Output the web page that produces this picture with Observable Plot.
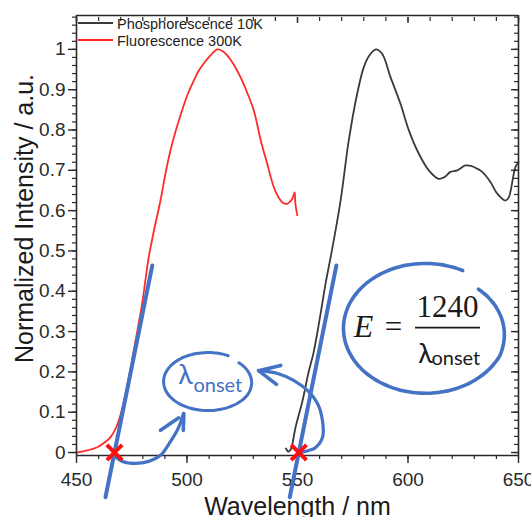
<!DOCTYPE html>
<html>
<head>
<meta charset="utf-8">
<script src="https://cdn.jsdelivr.net/npm/d3@7"></script>
<script src="https://cdn.jsdelivr.net/npm/@observablehq/plot@0.6"></script>
<style>
  html, body { margin: 0; background: #fff; overflow: hidden; }
  #chart svg { display: block; overflow: hidden; }
</style>
</head>
<body>
<div id="chart"></div>
<script>
// Emission spectra: [wavelength (nm), normalized intensity]
const fluorescence300K = [
  [450, 0], [454, 0.004], [459.4, 0.013], [463, 0.026], [465.4, 0.038], [467.4, 0.056],
  [469.1, 0.079], [470.7, 0.11], [472.2, 0.146], [474, 0.195], [475.9, 0.253], [477.8, 0.31],
  [479.7, 0.369], [481.2, 0.428], [482.7, 0.485], [485.3, 0.557], [488, 0.625], [490.2, 0.69],
  [492.5, 0.749], [495, 0.8], [497.8, 0.849], [500.4, 0.89], [503.1, 0.923], [505.3, 0.947],
  [507.6, 0.965], [510.6, 0.985], [513.7, 1.0], [516, 0.996], [518.2, 0.985], [521.2, 0.962],
  [524.2, 0.931], [527.2, 0.893], [530.2, 0.849], [533.3, 0.776], [536.3, 0.716], [539.3, 0.658],
  [541.2, 0.635], [543.1, 0.621], [545.3, 0.617], [547.5, 0.628], [548.7, 0.645], [549.0, 0.62],
  [549.9, 0.588]
];
const phosphorescence10K = [
  [544.8, 0.01], [545.9, 0.002], [546.8, 0.007], [547.3, 0.012], [549.1, 0.062], [552.3, 0.129],
  [555, 0.199], [557.2, 0.246], [558.9, 0.295], [560.8, 0.356], [562.7, 0.419], [565.7, 0.505],
  [569.5, 0.625], [573.2, 0.774], [577, 0.89], [580, 0.956], [582.5, 0.985], [585.5, 1.0],
  [588.3, 0.989], [592.1, 0.931], [596.6, 0.865], [600.4, 0.799], [604.9, 0.741], [609.4, 0.7],
  [613.9, 0.679], [616.5, 0.683], [619.2, 0.696], [622.3, 0.7], [626, 0.712], [628.5, 0.711],
  [631.3, 0.704], [633.6, 0.696], [637.3, 0.671], [640.4, 0.642], [644.1, 0.625], [645.6, 0.633],
  [648.6, 0.708], [650, 0.72]
];

// Series names, in legend order
const seriesNames = ["Phosphorescence 10K", "Fluorescence 300K"];

// Axis extents and ticks
const xDomain = [450, 650];
const yDomain = [-0.0074, 1.084];
const xMajor = [450, 500, 550, 600, 650];
const xMinor = [450, 460, 470, 480, 490, 500, 510, 520, 530, 540, 550, 560, 570, 580, 590, 600, 610, 620, 630, 640, 650];
const yMajor = [0, 0.1, 0.2, 0.3, 0.4, 0.5, 0.6, 0.7, 0.8, 0.9, 1];
const yMinor = d3.range(0, 55).map(i => i / 50);

// Onset construction: tangents to the rising edges and their baseline intercepts
const tangentLines = [
  {x1: 463.1, y1: -0.111, x2: 484.3, y2: 0.464},
  {x1: 546.5, y1: -0.111, x2: 567.6, y2: 0.464}
];
const onsetWavelengths = [467.2, 550.6];

// Hand-drawn annotation strokes, in (nm, intensity) space
const arrowToLabel = [[466.7, -0.007], [470.8, -0.022], [476.7, -0.027], [482.6, -0.022], [488, -0.007],
  [492.5, 0.027], [496.2, 0.062], [498.4, 0.097]];
const arrowFromSecond = [[551.4, 0], [555, 0.005], [558.1, 0.012], [561.3, 0.037], [561.3, 0.079],
  [559, 0.122], [554.5, 0.154], [548.2, 0.179], [541, 0.196], [532.4, 0.203]];
const arrowBarbs = [
  {x1: 488.0, y1: 0.055, x2: 496.3, y2: 0.086},
  {x1: 498.6, y1: 0.096, x2: 498.3, y2: 0.055},
  {x1: 532.4, y1: 0.203, x2: 542.4, y2: 0.216},
  {x1: 532.4, y1: 0.203, x2: 540.5, y2: 0.169}
];
const labelLoop = {cx: 509.5, cy: 0.176, rx: 20.1, ry: 0.072, from: 63, to: 404, shrink: 0.05};
const formulaLoop = {cx: 607.9, cy: 0.308, rx: 37.1, ry: 0.161, from: 63, to: 405, shrink: 0.12};

// Formula E = 1240 / λonset and the λonset tag
const formulaParts = [
  {text: "E", x: 579.9, y: 0.2854},
  {text: "=", x: 593.4, y: 0.2854},
  {text: "1240", x: 617.9, y: 0.335}
];
const fractionBar = [{x1: 603.4, x2: 632.8, y: 0.31}];
const lambdaTags = [
  {x: 499.3, y: 0.171, sub: {x: 502.9, y: 0.149}, color: "#4472c4"},
  {x: 607.9, y: 0.223, sub: {x: 610.6, y: 0.216}, color: "#1a1a1a"}
];

const blue = "#4472c4";
const axisColor = "#2a2a2a";
const lineColors = {"Phosphorescence 10K": "#3a3a3a", "Fluorescence 300K": "#ff2a2a"};

// Open, slightly spiralling loop drawn by hand around a label
function loopPoints(c) {
  return d3.range(c.from, c.to + 0.01, 4).map(t => {
    const a = t * Math.PI / 180;
    const k = 1 - c.shrink * Math.max(0, 1 - (c.to - t) / 70);
    return [c.cx + k * c.rx * Math.cos(a), c.cy + k * c.ry * Math.sin(a)];
  });
}

// Legend drawn in the top-left corner of the frame
function legend(index, scales, values, dims) {
  const left = dims.marginLeft, top = dims.marginTop;
  const g = d3.create("svg:g")
    .attr("font-family", "'Liberation Sans', Arial, sans-serif")
    .attr("font-size", 14.5)
    .attr("text-anchor", "start");
  seriesNames.forEach((name, i) => {
    const y = top + 8 + i * 17;
    g.append("line")
      .attr("x1", left + 2).attr("x2", left + 37)
      .attr("y1", y).attr("y2", y)
      .attr("stroke", lineColors[name]).attr("stroke-width", 1.8);
    g.append("text")
      .attr("x", left + 41).attr("y", y + 5.5)
      .attr("fill", "#222").text(name);
  });
  return g.node();
}

const blank = () => "";

const chart = Plot.plot({
  width: 531,
  height: 517,
  marginLeft: 76,
  marginRight: 13,
  marginTop: 15,
  marginBottom: 62,
  style: {fontFamily: "'Liberation Sans', Arial, sans-serif", fontSize: "19px", color: axisColor},
  x: {domain: xDomain, label: null},
  y: {domain: yDomain, label: null},
  marks: [
    // spectra
    Plot.line(phosphorescence10K, {x: d => d[0], y: d => d[1], stroke: lineColors["Phosphorescence 10K"], strokeWidth: 1.8, curve: "catmull-rom"}),
    Plot.line(fluorescence300K, {x: d => d[0], y: d => d[1], stroke: lineColors["Fluorescence 300K"], strokeWidth: 1.8, curve: "catmull-rom"}),

    // box around the plot area
    Plot.ruleX(xDomain, {stroke: axisColor, strokeWidth: 1.6}),
    Plot.ruleY(yDomain, {stroke: axisColor, strokeWidth: 1.6}),

    // axes: left/bottom ticks point out, top/right ticks point in
    Plot.axisY({ticks: yMinor, anchor: "left", tickSize: 4, tickFormat: blank, strokeWidth: 1.2}),
    Plot.axisY({ticks: yMajor, anchor: "left", tickSize: 8, tickPadding: 3, tickFormat: d => String(d), strokeWidth: 1.4}),
    Plot.axisY({ticks: yMinor, anchor: "right", tickSize: 4, dx: -5, tickFormat: blank, strokeWidth: 1.2}),
    Plot.axisY({ticks: yMajor, anchor: "right", tickSize: 7, dx: -8, tickFormat: blank, strokeWidth: 1.4}),
    Plot.axisX({ticks: xMinor, anchor: "bottom", tickSize: 4, tickFormat: blank, strokeWidth: 1.2}),
    Plot.axisX({ticks: xMajor, anchor: "bottom", tickSize: 8, tickPadding: 9, tickFormat: d => String(d), strokeWidth: 1.4}),
    Plot.axisX({ticks: xMinor, anchor: "top", tickSize: 4, dy: 5, tickFormat: blank, strokeWidth: 1.2}),
    Plot.axisX({ticks: xMajor, anchor: "top", tickSize: 6, dy: 7, tickFormat: blank, strokeWidth: 1.4}),

    // axis titles
    Plot.text(["Wavelength / nm"], {frameAnchor: "bottom", dy: 59, lineAnchor: "bottom", textAnchor: "middle", fontSize: 25, fill: "#1a1a1a"}),
    Plot.text(["Normalized Intensity / a.u."], {frameAnchor: "left", dx: -44, dy: -17, rotate: -90, lineAnchor: "bottom", textAnchor: "middle", fontSize: 25, fill: "#1a1a1a"}),

    // onset construction
    Plot.link(tangentLines, {x1: "x1", y1: "y1", x2: "x2", y2: "y2", stroke: blue, strokeWidth: 4, strokeLinecap: "round"}),
    Plot.line(arrowToLabel, {x: d => d[0], y: d => d[1], stroke: blue, strokeWidth: 3.2, curve: "catmull-rom", strokeLinecap: "round"}),
    Plot.line(arrowFromSecond, {x: d => d[0], y: d => d[1], stroke: blue, strokeWidth: 3.2, curve: "catmull-rom", strokeLinecap: "round"}),
    Plot.link(arrowBarbs, {x1: "x1", y1: "y1", x2: "x2", y2: "y2", stroke: blue, strokeWidth: 3.6, strokeLinecap: "round"}),
    Plot.line(loopPoints(labelLoop), {x: d => d[0], y: d => d[1], stroke: blue, strokeWidth: 3, curve: "catmull-rom", strokeLinecap: "round"}),
    Plot.line(loopPoints(formulaLoop), {x: d => d[0], y: d => d[1], stroke: blue, strokeWidth: 3.6, curve: "catmull-rom", strokeLinecap: "round"}),
    Plot.dot(onsetWavelengths, {x: d => d, y: () => 0, symbol: "times", r: 7, stroke: "#ff1010", strokeWidth: 4}),

    // λonset tags and formula
    Plot.text(lambdaTags, {x: "x", y: "y", text: () => "λ", fill: d => d.color, fontSize: 27, fontFamily: "Lato, 'Open Sans', sans-serif", lineAnchor: "bottom"}),
    Plot.text(lambdaTags, {x: d => d.sub.x, y: d => d.sub.y, text: () => "onset", fill: d => d.color, fontSize: 20, fontFamily: "Lato, 'Open Sans', sans-serif", textAnchor: "start", lineAnchor: "bottom"}),
    Plot.text(formulaParts.slice(0, 1), {x: "x", y: "y", text: "text", fontSize: 32, fontStyle: "italic", fontFamily: "'Liberation Serif', 'DejaVu Serif', serif", fill: "#1a1a1a", lineAnchor: "bottom"}),
    Plot.text(formulaParts.slice(1), {x: "x", y: "y", text: "text", fontSize: 31, fontFamily: "'Liberation Serif', 'DejaVu Serif', serif", fill: "#1a1a1a", lineAnchor: "bottom"}),
    Plot.ruleY(fractionBar, {x1: "x1", x2: "x2", y: "y", stroke: "#1a1a1a", strokeWidth: 1.8}),

    legend
  ]
});

document.getElementById("chart").append(chart);
</script>
</body>
</html>
